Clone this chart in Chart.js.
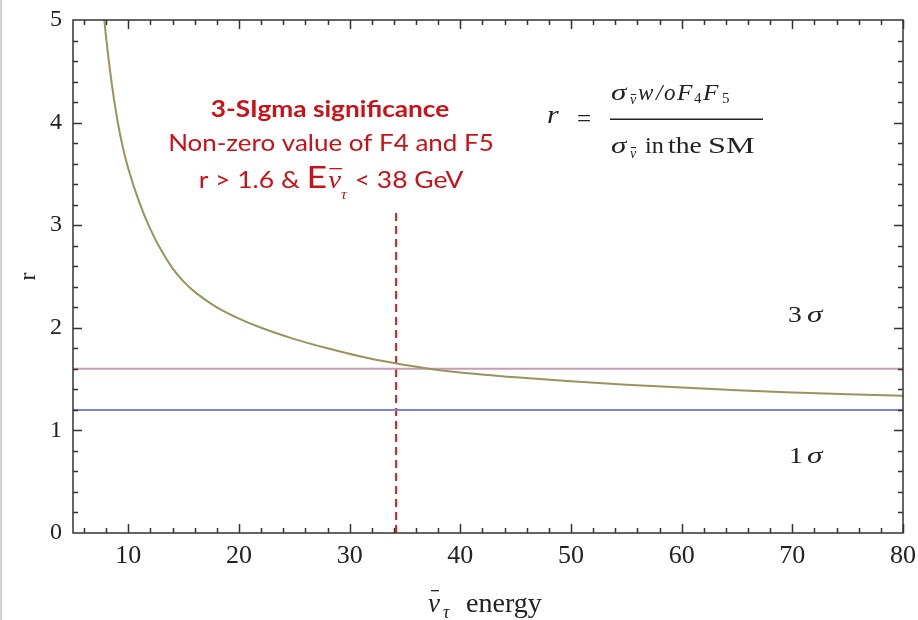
<!DOCTYPE html>
<html>
<head>
<meta charset="utf-8">
<script src="https://cdn.jsdelivr.net/npm/chart.js@4.4.1/dist/chart.umd.min.js"></script>
<style>
  html, body { margin: 0; padding: 0; background: #fff; }
  #wrap { width: 918px; height: 620px; }
</style>
</head>
<body>
<div id="wrap"><canvas id="ratioChart" width="918" height="620"></canvas></div>
<script>
// r = sigma(anti-nu) without F4,F5 over sigma(anti-nu) in the SM, vs anti-nu_tau energy
var energy = [7.7, 8.0, 8.5, 9.0, 9.5, 10, 11, 12, 13, 14, 15, 16, 17, 18, 20, 22, 25, 28, 31, 34, 37, 40, 45, 50, 55, 60, 65, 70, 75, 80];
var ratio  = [5.15, 4.82, 4.38, 4.03, 3.76, 3.55, 3.22, 2.96, 2.75, 2.58, 2.45, 2.35, 2.27, 2.20, 2.09, 2.00, 1.89, 1.80, 1.72, 1.656, 1.603, 1.565, 1.518, 1.48, 1.446, 1.418, 1.392, 1.37, 1.353, 1.338];

var sigmaLevels = [1.6, 1.2];          // 3 sigma, 1 sigma
var sigmaNames = ['3', '1'];
var cutEnergy = 34.2;                  // dashed marker
var cutTop = 3.12;

var xTicks = [10, 20, 30, 40, 50, 60, 70, 80];
var yTicks = [0, 1, 2, 3, 4, 5];

var SERIF = '"Liberation Serif", "DejaVu Serif", serif';
var RED = '#cc1016';
var INK = '#222';

function pts(xs, ys) {
  return xs.map(function (x, i) { return { x: x, y: ys[i] }; });
}

// one piece of text, optionally stretched sideways and with an overbar
function piece(ctx, p, x, y) {
  ctx.save();
  ctx.font = p.font;
  ctx.translate(x, y);
  ctx.scale(p.sx || 1, 1);
  ctx.fillText(p.text, 0, 0);
  if (p.bar) {
    var w = ctx.measureText(p.text).width;
    ctx.fillRect(p.bar[0], -p.bar[1], w - p.bar[0] + (p.bar[2] || 0), p.bar[3] || 1.2);
  }
  ctx.restore();
}

// a centred row of pieces that share one sideways stretch
function row(ctx, runs, cx, base, sx) {
  var total = 0;
  runs.forEach(function (r) {
    ctx.font = r.font;
    r.w = (ctx.measureText(r.text).width + (r.gap || 0)) * sx;
    total += r.w;
  });
  var x = cx - total / 2;
  runs.forEach(function (r) {
    piece(ctx, { text: r.text, font: r.font, sx: sx, bar: r.bar }, x, base + (r.dy || 0));
    x += r.w;
  });
}

var decorations = {
  id: 'decorations',
  afterDraw: function (chart) {
    var ctx = chart.ctx, a = chart.chartArea;
    var xs = chart.scales.x, ys = chart.scales.y;
    ctx.save();

    // thin grey edge on the left of the figure
    ctx.fillStyle = '#d0d0d0';
    ctx.fillRect(0, 0, 2, chart.height);

    // frame with inward ticks on all four sides
    ctx.strokeStyle = '#333';
    ctx.lineWidth = 1.5;
    ctx.strokeRect(a.left, a.top, a.right - a.left, a.bottom - a.top);
    ctx.beginPath();
    for (var i = 3; i <= 40; i++) {
      var px = Math.round(xs.getPixelForValue(i * 2)) + 0.5;
      var len = (i % 5 === 0) ? 9 : 5;
      ctx.moveTo(px, a.bottom); ctx.lineTo(px, a.bottom - len);
      ctx.moveTo(px, a.top); ctx.lineTo(px, a.top + len);
    }
    for (var j = 1; j < 25; j++) {
      var py = Math.round(ys.getPixelForValue(j / 5)) + 0.5;
      var ln = (j % 5 === 0) ? 9 : 5;
      ctx.moveTo(a.left, py); ctx.lineTo(a.left + ln, py);
      ctx.moveTo(a.right, py); ctx.lineTo(a.right - ln, py);
    }
    ctx.stroke();

    ctx.fillStyle = INK;
    ctx.textBaseline = 'alphabetic';
    ctx.textAlign = 'left';

    // sigma labels
    var up = '24px ' + SERIF, it = 'italic 24px ' + SERIF;
    piece(ctx, { text: sigmaNames[0], font: up, sx: 1.15 }, 788, 322);
    piece(ctx, { text: 'σ', font: it, sx: 1.3 }, 807, 322);
    piece(ctx, { text: sigmaNames[1], font: up, sx: 1.15 }, 789, 463);
    piece(ctx, { text: 'σ', font: it, sx: 1.3 }, 807, 463);

    // definition of r
    var f23 = 'italic 23px ' + SERIF, r23 = '23px ' + SERIF, sub = 'italic 14px ' + SERIF;
    piece(ctx, { text: 'r', font: 'italic 25px ' + SERIF, sx: 1.2 }, 547, 123);
    piece(ctx, { text: '=', font: '25px ' + SERIF }, 577, 127);
    ctx.fillRect(610, 118.5, 153, 1.5);
    piece(ctx, { text: 'σ', font: f23, sx: 1.35 }, 611, 100);
    piece(ctx, { text: 'ν', font: sub, bar: [1, 10, 0, 1] }, 630, 104);
    piece(ctx, { text: 'w', font: f23 }, 638, 100);
    piece(ctx, { text: '/', font: f23 }, 656, 100);
    piece(ctx, { text: 'o', font: f23 }, 664, 100);
    piece(ctx, { text: 'F', font: f23, sx: 1.1 }, 677, 100);
    piece(ctx, { text: '4', font: '15px ' + SERIF }, 694, 103);
    piece(ctx, { text: 'F', font: f23, sx: 1.1 }, 703, 100);
    piece(ctx, { text: '5', font: '15px ' + SERIF }, 722, 103);
    piece(ctx, { text: 'σ', font: f23, sx: 1.35 }, 611, 153);
    piece(ctx, { text: 'ν', font: sub, bar: [1, 11, 0, 1] }, 630, 158);
    piece(ctx, { text: 'in', font: r23, sx: 1.05 }, 645, 153);
    piece(ctx, { text: 'the', font: r23, sx: 1.2 }, 668, 153);
    piece(ctx, { text: 'SM', font: r23, sx: 1.4 }, 708, 153);

    // x axis title
    piece(ctx, { text: 'ν', font: 'italic 27px ' + SERIF, bar: [3, 22, -1, 1.3] }, 428, 612);
    piece(ctx, { text: 'τ', font: 'italic 18px ' + SERIF }, 443, 618);
    piece(ctx, { text: 'energy', font: '27px ' + SERIF, sx: 1.04 }, 466, 612);

    // annotation
    ctx.fillStyle = RED;
    row(ctx, [{ text: '3-SIgma significance', font: 'bold 23px Lato' }], 330, 117, 1.14);
    row(ctx, [{ text: 'Non-zero value of F4 and F5', font: '23px Lato' }], 331, 151, 1.13);
    row(ctx, [
      { text: 'r > 1.6 & ', font: '23px Lato' },
      { text: 'E', font: '31px Lato', gap: 1 },
      { text: 'ν', font: 'italic 25px ' + SERIF, bar: [1, 20, 1, 1.3] },
      { text: 'τ', font: 'italic 14px ' + SERIF, dy: 11, gap: 1 },
      { text: ' < 38 GeV', font: '23px Lato' }
    ], 331, 188, 1.15);

    ctx.restore();
  }
};

new Chart(document.getElementById('ratioChart'), {
  type: 'scatter',
  data: {
    datasets: [{
      data: pts(energy, ratio),
      showLine: true,
      borderColor: '#98945c',
      borderWidth: 2,
      pointRadius: 0,
      cubicInterpolationMode: 'monotone'
    }, {
      data: pts([5, 80], [sigmaLevels[0], sigmaLevels[0]]),
      showLine: true,
      borderColor: '#c79bb4',
      borderWidth: 2,
      pointRadius: 0
    }, {
      data: pts([5, 80], [sigmaLevels[1], sigmaLevels[1]]),
      showLine: true,
      borderColor: '#7d7fd2',
      borderWidth: 2,
      pointRadius: 0
    }, {
      data: pts([cutEnergy, cutEnergy], [0, cutTop]),
      showLine: true,
      borderColor: '#e0161a',
      borderWidth: 2,
      borderDash: [8, 5],
      pointRadius: 0
    }]
  },
  options: {
    responsive: false,
    animation: false,
    devicePixelRatio: 1,
    layout: { padding: { left: 0, right: 15, top: 20, bottom: 0 } },
    plugins: { legend: { display: false }, tooltip: { enabled: false } },
    scales: {
      x: {
        type: 'linear',
        min: 5,
        max: 80,
        afterBuildTicks: function (scale) {
          scale.ticks = xTicks.map(function (v) { return { value: v }; });
        },
        afterFit: function (scale) {
          scale.height = 87;
          scale.paddingLeft = 0;
          scale.paddingRight = 0;
        },
        grid: { display: false, drawTicks: false },
        border: { display: false },
        ticks: { color: INK, padding: 8, maxRotation: 0, font: { family: SERIF, size: 26 } }
      },
      y: {
        min: 0,
        max: 5,
        afterBuildTicks: function (scale) {
          scale.ticks = yTicks.map(function (v) { return { value: v }; });
        },
        afterFit: function (scale) {
          scale.width = 73;
          scale.paddingTop = 0;
          scale.paddingBottom = 0;
        },
        grid: { display: false, drawTicks: false },
        border: { display: false },
        ticks: { color: INK, padding: 11, font: { family: SERIF, size: 24 } },
        title: { display: true, text: 'r', color: INK, padding: { top: 14, bottom: 0 }, font: { family: SERIF, size: 24 } }
      }
    }
  },
  plugins: [decorations]
});
</script>
</body>
</html>
